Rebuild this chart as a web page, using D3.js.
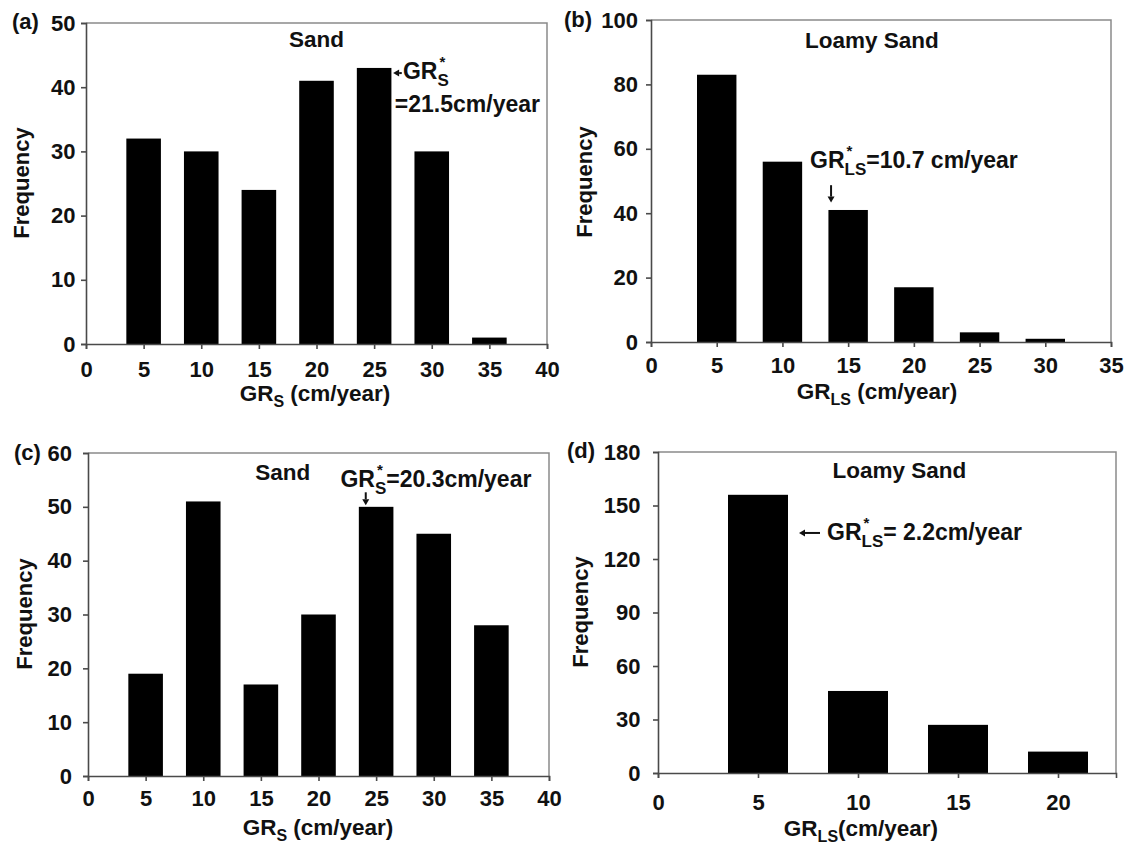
<!DOCTYPE html>
<html>
<head>
<meta charset="utf-8">
<script src="https://cdn.jsdelivr.net/npm/d3@7"></script>
<style>
  html, body { margin: 0; padding: 0; background: #fff; }
  svg { display: block; font-family: "Liberation Sans", Arial, Helvetica, sans-serif; font-weight: bold; }
</style>
</head>
<body>
<svg id="chart" width="1128" height="852"></svg>
<script>
// ---------------- data ----------------
const catsA = [5, 10, 15, 20, 25, 30, 35];
const valsA = [32, 30, 24, 41, 43, 30, 1];
const xTicksA = [0, 5, 10, 15, 20, 25, 30, 35, 40];
const yTicksA = [0, 10, 20, 30, 40, 50];

const catsB = [5, 10, 15, 20, 25, 30];
const valsB = [83, 56, 41, 17, 3, 1];
const xTicksB = [0, 5, 10, 15, 20, 25, 30, 35];
const yTicksB = [0, 20, 40, 60, 80, 100];

const catsC = [5, 10, 15, 20, 25, 30, 35];
const valsC = [19, 51, 17, 30, 50, 45, 28];
const xTicksC = [0, 5, 10, 15, 20, 25, 30, 35, 40];
const yTicksC = [0, 10, 20, 30, 40, 50, 60];

const catsD = [5, 10, 15, 20];
const valsD = [156, 46, 27, 12];
const xTicksD = [0, 5, 10, 15, 20];
const yTicksD = [0, 30, 60, 90, 120, 150, 180];

const binWidth = 3;

// ---------------- layout ----------------
const svg = d3.select("#chart");
const TXT = "#111";
const FS = 22;      // tick labels, tags
const FST = 22.5;   // titles
const FSA = 23;     // annotations

const panels = [
  { tag: "(a)", cats: catsA, vals: valsA, xTicks: xTicksA, yTicks: yTicksA, xMax: 40, yMax: 50,
    left: 86, right: 547, top: 23, bottom: 344, xPad: 12.5, yPad: 5.5,
    tagPos: [12, 29], freqPos: [21, 183], xTitle: { x: 315, y: 401, sub: "S", rest: " (cm/year)" },
    title: { text: "Sand", x: 20, y: 46.2 } },
  { tag: "(b)", cats: catsB, vals: valsB, xTicks: xTicksB, yTicks: yTicksB, xMax: 35, yMax: 100,
    left: 651, right: 1111, top: 20, bottom: 342, xPad: 10, yPad: 8,
    tagPos: [564, 27], freqPos: [584, 182], xTitle: { x: 877, y: 398.5, sub: "LS", rest: " (cm/year)" },
    title: { text: "Loamy Sand", x: 16.8, y: 91.3 } },
  { tag: "(c)", cats: catsC, vals: valsC, xTicks: xTicksC, yTicks: yTicksC, xMax: 40, yMax: 60,
    left: 88, right: 549, top: 453, bottom: 776, xPad: 9, yPad: 11,
    tagPos: [14, 460], freqPos: [24, 614], xTitle: { x: 318, y: 835, sub: "S", rest: " (cm/year)" },
    title: { text: "Sand", x: 16.9, y: 55 } },
  { tag: "(d)", cats: catsD, vals: valsD, xTicks: xTicksD, yTicks: yTicksD, xMax: 22.9, yMax: 180,
    left: 658, right: 1116, top: 452, bottom: 773, xPad: 16, yPad: 12.5,
    tagPos: [567, 458], freqPos: [580, 612], xTitle: { x: 861, y: 836, sub: "LS", rest: "(cm/year)" },
    title: { text: "Loamy Sand", x: 12.07, y: 165.4 } }
];

// arrowhead helper
function arrow(g, x1, y1, x2, y2) {
  const ang = Math.atan2(y2 - y1, x2 - x1);
  const hl = 6, hw = 3.5;
  const bx = x2 - hl * Math.cos(ang), by = y2 - hl * Math.sin(ang);
  g.append("line").attr("x1", x1).attr("y1", y1).attr("x2", bx).attr("y2", by)
    .attr("stroke", TXT).attr("stroke-width", 2);
  const px = -Math.sin(ang) * hw, py = Math.cos(ang) * hw;
  g.append("path")
    .attr("d", `M${x2},${y2}L${bx + px},${by + py}L${bx - px},${by - py}Z`)
    .attr("fill", TXT);
}

// "GR" with subscript (and optional star superscript) followed by rest text
function grText(g, x, y, sub, rest, star, fs) {
  const t = g.append("text").attr("x", x).attr("y", y).attr("fill", TXT)
    .attr("font-size", fs);
  const gr = t.append("tspan").text("GR");
  const subFs = Math.round(fs * 0.72);
  const subDy = star ? 7 : 6;
  t.append("tspan").attr("font-size", subFs).attr("dy", subDy).text(sub);
  if (rest) t.append("tspan").attr("dy", -subDy).text(rest);
  if (star) {
    const w = gr.node().getComputedTextLength();
    g.append("text").attr("x", x + w + 2).attr("y", y - 12)
      .attr("font-size", 15).attr("fill", TXT).text("*");
  }
  return t;
}

panels.forEach(p => {
  const g = svg.append("g");
  const x = d3.scaleLinear().domain([0, p.xMax]).range([p.left, p.right]);
  const y = d3.scaleLinear().domain([0, p.yMax]).range([p.bottom, p.top]);

  // frame (top & right)
  g.append("path")
    .attr("d", `M${p.left},${p.top}H${p.right}V${p.bottom}`)
    .attr("fill", "none").attr("stroke", "#8a8a8a").attr("stroke-width", 1.5);

  // bars
  g.selectAll("rect.bar").data(p.cats.map((c, i) => ({ c, v: p.vals[i] })))
    .join("rect").attr("class", "bar")
    .attr("x", d => x(d.c - binWidth / 2))
    .attr("width", d => x(d.c + binWidth / 2) - x(d.c - binWidth / 2))
    .attr("y", d => y(d.v))
    .attr("height", d => y(0) - y(d.v))
    .attr("fill", "#000");

  // axes
  const xAxis = d3.axisBottom(x).tickValues(p.xTicks).tickSize(5).tickPadding(p.xPad)
    .tickFormat(d3.format("d"));
  const yAxis = d3.axisLeft(y).tickValues(p.yTicks).tickSize(5).tickPadding(p.yPad)
    .tickFormat(d3.format("d"));
  const gx = g.append("g").attr("transform", `translate(0,${p.bottom})`).call(xAxis);
  const gy = g.append("g").attr("transform", `translate(${p.left},0)`).call(yAxis);
  [gx, gy].forEach(a => {
    a.select(".domain").attr("stroke", "#4a4a4a").attr("stroke-width", 1.6);
    a.selectAll(".tick line").attr("stroke", "#4a4a4a").attr("stroke-width", 1.6);
    a.selectAll(".tick text").attr("fill", TXT).attr("font-size", FS)
      .attr("font-family", "Liberation Sans, Arial, sans-serif").attr("font-weight", "bold");
  });

  // panel tag
  g.append("text").attr("x", p.tagPos[0]).attr("y", p.tagPos[1])
    .attr("font-size", FS).attr("fill", TXT).text(p.tag);

  // y title
  g.append("text")
    .attr("transform", `translate(${p.freqPos[0]},${p.freqPos[1]}) rotate(-90)`)
    .attr("text-anchor", "middle").attr("dominant-baseline", "central")
    .attr("font-size", FS).attr("fill", TXT).text("Frequency");

  // x title
  grText(g, p.xTitle.x, p.xTitle.y, p.xTitle.sub, p.xTitle.rest, false, FST)
    .attr("text-anchor", "middle");

  // panel title
  g.append("text").attr("x", x(p.title.x)).attr("y", y(p.title.y))
    .attr("text-anchor", "middle").attr("font-size", FST).attr("fill", TXT)
    .text(p.title.text);

  p.xs = x; p.ys = y; p.g = g;
});

// ---------------- annotations ----------------
{
  const p = panels[0], x = p.xs, y = p.ys, g = p.g;
  arrow(g, x(27.4), y(42.2), x(26.65), y(42.2));
  grText(g, x(27.5), y(41.2), "S", "", true, FSA);
  g.append("text").attr("x", x(26.8)).attr("y", y(36.2)).attr("font-size", FSA)
    .attr("fill", TXT).text("=21.5cm/year");
}
{
  const p = panels[1], x = p.xs, y = p.ys, g = p.g;
  grText(g, x(12.1), y(54.0), "LS", "=10.7 cm/year", true, FSA);
  arrow(g, x(13.7), y(48.7), x(13.7), y(43.3));
}
{
  const p = panels[2], x = p.xs, y = p.ys, g = p.g;
  grText(g, x(21.9), y(53.7), "S", "=20.3cm/year", true, FSA);
  arrow(g, x(24.1), y(52.7), x(24.1), y(50.3));
}
{
  const p = panels[3], x = p.xs, y = p.ys, g = p.g;
  arrow(g, x(8.1), y(134.6), x(7.05), y(134.6));
  grText(g, x(8.45), y(130.7), "LS", "= 2.2cm/year", true, FSA);
}
</script>
</body>
</html>
